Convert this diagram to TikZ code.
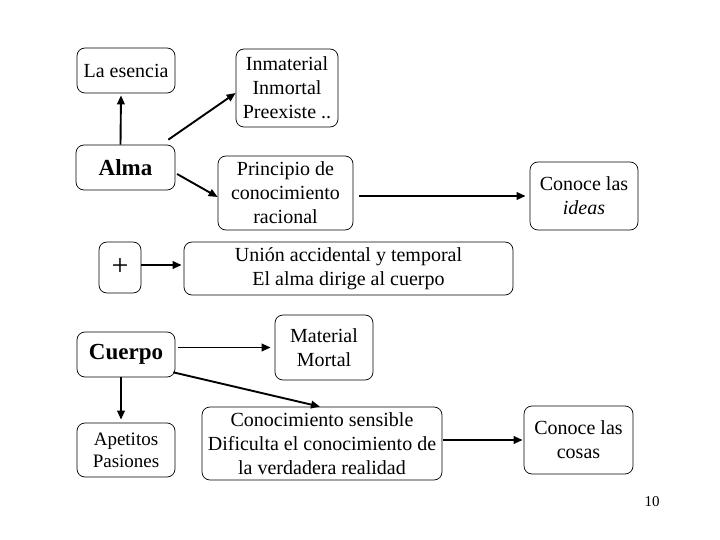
\documentclass[tikz,border=0pt]{standalone}
\usepackage{fontspec}
\setmainfont{Liberation Serif}
\usetikzlibrary{arrows.meta}
\begin{document}
\begin{tikzpicture}[x=1pt,y=-1pt,
  box/.style={draw, rounded corners=8pt, line width=0.7pt, align=center, inner sep=0pt,
    font=\fontsize{20}{24}\selectfont},
  big/.style={font=\fontsize{23}{27}\selectfont\bfseries},
  arr/.style={line width=1.9pt, -{Triangle[length=9pt,width=7.5pt]}, shorten <=2pt, shorten >=2pt}]
\useasboundingbox (0,0) rectangle (720,540);
\node[box, minimum width=98pt, minimum height=45pt] (esencia) at (126,70.5) {La esencia};
\node[box, minimum width=102pt, minimum height=78pt] (inmat) at (287,88) {Inmaterial\\Inmortal\\Preexiste ..};
\node[box, big, minimum width=99pt, minimum height=45pt] (alma) at (125.5,167.5) {Alma};
\node[box, minimum width=135pt, minimum height=74pt] (princ) at (285.5,193) {Principio de\\conocimiento\\racional};
\node[box, minimum width=108pt, minimum height=68pt] (ideas) at (584,196) {Conoce las\\\textit{ideas}};
\node[box, minimum width=42pt, minimum height=51pt, font=\fontsize{30}{30}\selectfont] (plus) at (120,267.5) {+};
\node[box, minimum width=329pt, minimum height=53pt] (union) at (348.5,268.5) {Unión accidental y temporal\\El alma dirige al cuerpo};
\node[box, big, minimum width=98pt, minimum height=45pt] (cuerpo) at (126,354.5) {Cuerpo};
\node[box, minimum width=98pt, minimum height=65pt] (mat) at (324,347.5) {Material\\Mortal};
\node[box, minimum width=98pt, minimum height=54pt, font=\fontsize{19}{22}\selectfont] (apet) at (126,450) {Apetitos\\Pasiones};
\node[box, minimum width=240pt, minimum height=73pt] (conoc) at (322,443.5) {Conocimiento sensible\\Dificulta el conocimiento de\\la verdadera realidad};
\node[box, minimum width=109pt, minimum height=68pt] (cosas) at (578.5,440) {Conoce las\\cosas};
\node[font=\fontsize{15}{18}\selectfont] (num) at (652,502) {10};
\draw[arr, shorten <=0pt] ([xshift=-5pt]alma.north) -- ([xshift=-5pt]esencia.south);
\draw[arr, shorten <=0pt, shorten >=0pt] ([xshift=-7pt,yshift=5pt]alma.north east) -- ([yshift=-5pt]inmat.west);
\draw[arr, shorten >=0pt] ([yshift=-5.5pt]alma.east) -- ([yshift=-4pt]princ.west);
\draw[arr, shorten <=6pt, shorten >=4pt] (princ.east |- ideas.west) -- (ideas.west);
\draw[arr, shorten <=0pt] ([yshift=2.5pt]plus.east) -- ([yshift=2.5pt]plus.east -| union.west);
\draw[arr, shorten <=3pt, shorten >=4pt] (cuerpo.east |- mat.west) -- (mat.west);
\draw[arr, shorten <=0pt, shorten >=0pt] ([xshift=-2pt,yshift=5pt]cuerpo.south east) -- ([xshift=-2pt]conoc.north);
\draw[arr, shorten <=0pt, shorten >=3pt] ([xshift=-5pt]cuerpo.south) -- ([xshift=-5pt]apet.north);
\draw[arr, shorten <=1pt, shorten >=1pt] (conoc.east |- cosas.west) -- (cosas.west);
\end{tikzpicture}
\end{document}
